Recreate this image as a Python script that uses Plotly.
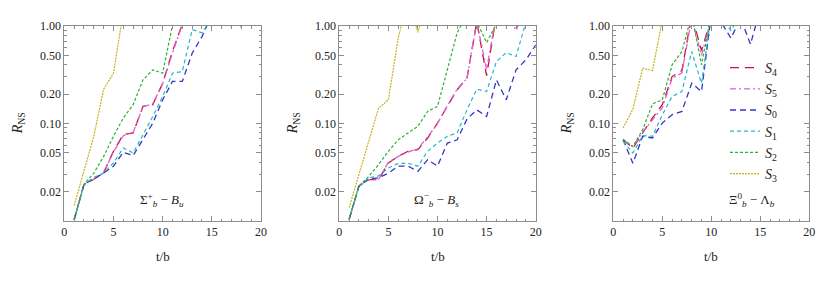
import plotly.graph_objects as go

t = list(range(1, 21))

series_names = ["S4", "S5", "S0", "S1", "S2", "S3"]
legend_labels = ["<i>S</i><sub>4</sub>", "<i>S</i><sub>5</sub>", "<i>S</i><sub>0</sub>",
                 "<i>S</i><sub>1</sub>", "<i>S</i><sub>2</sub>", "<i>S</i><sub>3</sub>"]

# Panel 1: Sigma_b^+ - B_u
p1_S4 = [0.0103, 0.0237, 0.0268, 0.0312, 0.052, 0.077, 0.080, 0.150, 0.156, 0.259, 0.55, 1.05, 1.5, 1.6, 1.8, 1.7, 1.6, 1.5, 1.8, 2.0]
p1_S5 = [0.0103, 0.0237, 0.0268, 0.0312, 0.051, 0.075, 0.081, 0.148, 0.160, 0.255, 0.53, 1.03, 1.4, 1.6, 1.7, 1.6, 1.5, 0.97, 1.6, 1.9]
p1_S0 = [0.0103, 0.0237, 0.0272, 0.031, 0.0365, 0.0507, 0.0468, 0.0683, 0.101, 0.175, 0.27, 0.27, 0.525, 0.778, 1.3, 1.5, 1.6, 1.7, 1.8, 2.0]
p1_S1 = [0.0103, 0.0237, 0.028, 0.031, 0.0394, 0.0561, 0.0499, 0.0768, 0.118, 0.189, 0.328, 0.341, 0.92, 0.85, 1.2, 1.4, 1.5, 1.6, 1.7, 1.8]
p1_S2 = [0.0103, 0.0237, 0.031, 0.046, 0.074, 0.114, 0.156, 0.28, 0.355, 0.328, 1.02, 1.5, 1.6, 1.7, 1.8, 1.9, 2.0, 2.0, 2.0, 2.0]
p1_S3 = [0.0144, 0.033, 0.0738, 0.225, 0.328, 1.4, 2.0, 2.0, 2.0, 2.0, 2.0, 2.0, 2.0, 2.0, 2.0, 1.5, 0.97, 1.5, 2.0, 2.0]

# Panel 2: Omega_b^- - B_s
p2_S4 = [0.0104, 0.0228, 0.0266, 0.0266, 0.0394, 0.0461, 0.0519, 0.054, 0.071, 0.101, 0.150, 0.222, 0.292, 1.1, 0.31, 1.3, 1.6, 1.7, 1.8, 2.0]
p2_S5 = [0.0104, 0.0228, 0.0266, 0.0268, 0.040, 0.046, 0.051, 0.055, 0.073, 0.100, 0.152, 0.225, 0.29, 1.1, 0.36, 1.3, 1.5, 0.9, 1.6, 1.9]
p2_S0 = [0.0104, 0.0228, 0.027, 0.0277, 0.031, 0.0365, 0.0365, 0.0323, 0.0426, 0.0365, 0.063, 0.068, 0.111, 0.138, 0.118, 0.28, 0.175, 0.355, 0.449, 0.64]
p2_S1 = [0.0104, 0.0228, 0.0277, 0.029, 0.035, 0.039, 0.039, 0.0365, 0.052, 0.063, 0.074, 0.080, 0.138, 0.225, 0.213, 0.432, 0.533, 0.486, 1.1, 1.3]
p2_S2 = [0.0104, 0.0228, 0.0287, 0.0379, 0.0519, 0.068, 0.080, 0.0935, 0.133, 0.150, 0.355, 0.85, 1.3, 1.1, 0.675, 1.05, 1.4, 1.6, 1.8, 2.0]
p2_S3 = [0.0137, 0.030, 0.0656, 0.144, 0.175, 0.75, 2.0, 0.86, 2.0, 2.0, 2.0, 2.0, 2.0, 2.0, 2.0, 2.0, 2.0, 2.0, 2.0, 2.0]

# Panel 3: Xi_b^0 - Lambda_b
p3_S4 = [0.0683, 0.056, 0.080, 0.114, 0.156, 0.303, 0.349, 1.3, 0.56, 1.2, 1.5, 1.6, 1.7, 1.8, 1.9, 2.0, 2.0, 2.0, 2.0, 2.0]
p3_S5 = [0.066, 0.058, 0.082, 0.110, 0.145, 0.29, 0.33, 1.2, 0.50, 1.2, 1.5, 1.6, 1.7, 1.8, 1.9, 2.0, 2.0, 2.0, 2.0, 2.0]
p3_S0 = [0.068, 0.039, 0.074, 0.071, 0.101, 0.123, 0.133, 0.259, 0.213, 1.3, 1.1, 0.75, 1.2, 0.65, 1.5, 1.7, 1.8, 1.9, 2.0, 2.0]
p3_S1 = [0.0657, 0.0499, 0.075, 0.074, 0.123, 0.189, 0.213, 0.547, 0.259, 1.3, 1.2, 0.9, 1.3, 1.5, 1.6, 1.7, 1.8, 1.9, 2.0, 2.0]
p3_S2 = [0.069, 0.058, 0.0865, 0.159, 0.175, 0.40, 0.547, 1.3, 0.40, 1.3, 1.5, 1.6, 1.7, 1.8, 1.9, 2.0, 2.0, 2.0, 2.0, 2.0]
p3_S3 = [0.090, 0.1405, 0.369, 0.349, 1.15, 2.0, 2.0, 2.0, 2.0, 2.0, 2.0, 2.0, 2.0, 2.0, 2.0, 2.0, 2.0, 2.0, 2.0, 2.0]

panels = [
    [p1_S4, p1_S5, p1_S0, p1_S1, p1_S2, p1_S3],
    [p2_S4, p2_S5, p2_S0, p2_S1, p2_S2, p2_S3],
    [p3_S4, p3_S5, p3_S0, p3_S1, p3_S2, p3_S3],
]
panel_labels = [
    "Σ<sup>+</sup><sub><i>b</i></sub> − <i>B<sub>u</sub></i>",
    "Ω<sup>−</sup><sub><i>b</i></sub> − <i>B<sub>s</sub></i>",
    "Ξ<sup>0</sup><sub><i>b</i></sub> − Λ<sub><i>b</i></sub>",
]
panel_label_x = [9.9, 9.9, 14.2]

x_ticks = [0, 5, 10, 15, 20]
y_ticks = [0.02, 0.05, 0.1, 0.2, 0.5, 1.0]
y_ticktext = ["0.02", "0.05", "0.10", "0.20", "0.50", "1.00"]
y_minor = [0.01 * k for k in range(2, 10)] + [0.1 * k for k in range(2, 10)]

colors = ["#c8143a", "#d860d8", "#3535c8", "#25b8c8", "#30b030", "#c4b41c"]
dashes = ["9px,6px", "6px,3px,2px,3px", "6px,4px", "4px,3px", "3px,2px", "2px,1px"]
widths = [1.3, 1.3, 1.3, 1.2, 1.2, 1.2]

# page body has an 8px margin; coordinates below are in window pixels
OFF = 8
W, H = 831 - OFF, 283 - OFF
x_px = [(64.3, 261.0), (339.3, 535.7), (613.3, 809.3)]
y_top, y_bot = 26.0, 221.0


def px(x):
    return (x - OFF) / W


def py(y):
    return 1 - (y - OFF) / H


FONT = "Liberation Serif, Times New Roman, DejaVu Serif, serif"
fig = go.Figure()

for p in range(3):
    xa = "x" if p == 0 else f"x{p+1}"
    ya = "y" if p == 0 else f"y{p+1}"
    for s in range(6):
        fig.add_trace(go.Scatter(
            x=t, y=panels[p][s], mode="lines",
            xaxis=xa, yaxis=ya,
            name=legend_labels[s], legendgroup=series_names[s],
            showlegend=(p == 2),
            line=dict(color=colors[s], dash=dashes[s], width=widths[s]),
        ))

axis_common = dict(
    showline=True, linecolor="#8c8c8c", linewidth=1, mirror="ticks",
    ticks="inside", tickcolor="#8c8c8c", ticklen=5, tickwidth=1,
    showgrid=False, zeroline=False, automargin=False,
    tickfont=dict(family=FONT, size=12, color="#222"),
)

layout = dict(
    template="none",
    width=W, height=H, margin=dict(l=0, r=0, t=0, b=0, autoexpand=False),
    paper_bgcolor="white", plot_bgcolor="white",
    font=dict(family=FONT, size=12, color="#222"),
    showlegend=True,
    legend=dict(
        x=px(725), y=py(52), xanchor="left", yanchor="top",
        font=dict(family=FONT, size=14, color="#222"),
        bgcolor="rgba(0,0,0,0)", itemwidth=30, tracegroupgap=0,
    ),
)

annotations = []
for p in range(3):
    xk = "xaxis" if p == 0 else f"xaxis{p+1}"
    yk = "yaxis" if p == 0 else f"yaxis{p+1}"
    l, r = x_px[p]
    layout[xk] = dict(
        axis_common, domain=[px(l), px(r)], range=[0, 20],
        tickvals=x_ticks, anchor=("y" if p == 0 else f"y{p+1}"),
        minor=dict(dtick=1, tick0=0, ticklen=2.5, tickcolor="#8c8c8c", ticks="inside"),
    )
    layout[yk] = dict(
        axis_common, domain=[py(y_bot), py(y_top)], type="log", range=[-2, 0],
        tickvals=y_ticks, ticktext=y_ticktext, anchor=("x" if p == 0 else f"x{p+1}"),
        minor=dict(tickvals=y_minor, ticklen=2.5, tickcolor="#8c8c8c", ticks="inside"),
    )
    annotations.append(dict(
        xref=("x" if p == 0 else f"x{p+1}"), yref="paper",
        x=panel_label_x[p], y=py(200), text=panel_labels[p], showarrow=False,
        font=dict(family=FONT, size=13, color="#222"), xanchor="center", yanchor="middle",
    ))
    annotations.append(dict(
        xref="paper", yref="paper", x=px((l + r) / 2), y=py(257),
        text="t/b", showarrow=False, font=dict(family=FONT, size=13, color="#222"),
        xanchor="center", yanchor="middle",
    ))
    annotations.append(dict(
        xref="paper", yref="paper", x=px(l - 46), y=py(123),
        text="<i>R</i><sub>NS</sub>", showarrow=False, textangle=-90,
        font=dict(family=FONT, size=14, color="#222"),
        xanchor="center", yanchor="middle",
    ))

layout["annotations"] = annotations
fig.update_layout(**layout)
fig.write_html("out.html")
